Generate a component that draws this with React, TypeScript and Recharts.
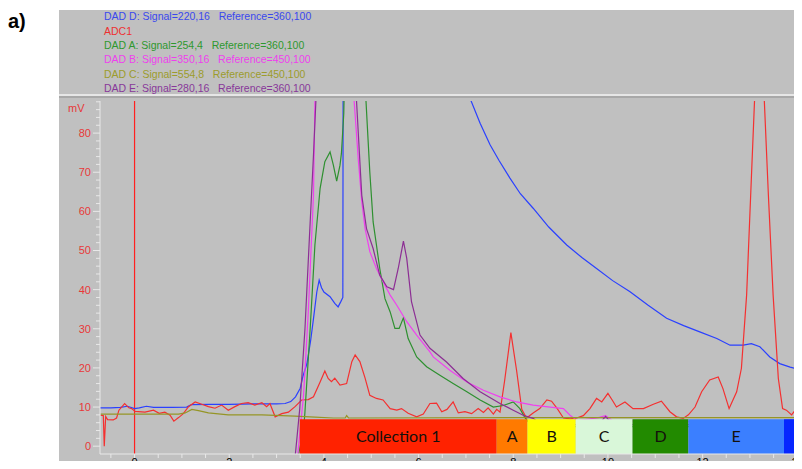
import React from 'react';
import { LineChart, Line, XAxis, YAxis, ReferenceArea, ReferenceLine } from 'recharts';

// Retention time (min) / signal (mV) pairs
const dadD: [number, number][] = [
  [-0.73, 9.8], [-0.5, 9.8], [-0.3, 9.9], [-0.15, 10.2], [0.0, 9.6], [0.1, 9.8], [0.25, 10.2], [0.4, 9.9],
  [0.8, 9.9], [1.1, 10.0], [1.2, 10.6], [1.6, 10.7], [2.0, 10.7], [2.5, 10.8], [3.0, 10.8], [3.18, 10.9],
  [3.3, 11.4], [3.4, 12.6], [3.5, 14.8], [3.56, 18.0], [3.64, 21.0], [3.72, 27.0], [3.78, 32.6], [3.85, 39.4],
  [3.9, 42.4], [3.95, 40.5], [4.0, 39.4], [4.13, 38.2], [4.23, 36.5], [4.3, 35.6], [4.36, 37.0], [4.4, 38.0],
  [4.41, 130], [6.9, 130], [7.0, 92], [7.1, 88.5], [7.3, 82.5], [7.51, 77], [7.7, 73], [7.93, 68.5],
  [8.15, 64.5], [8.42, 60.8], [8.75, 56], [9.13, 51.4], [9.45, 48.2], [9.76, 45.4], [10.1, 42.3], [10.46, 39.5],
  [10.85, 36], [11.24, 32.7], [11.6, 30.8], [11.94, 29.2], [12.3, 27.5], [12.58, 25.8], [12.86, 25.8],
  [13.03, 26.2], [13.21, 25.4], [13.42, 22.8], [13.63, 21.1], [13.85, 20.2], [14.1, 19.4],
];

const adc1: [number, number][] = [
  [-0.72, 7.9], [-0.66, 7.8], [-0.64, 0], [-0.61, 7.6], [-0.57, 6.8], [-0.45, 6.7], [-0.38, 7.2], [-0.33, 9.2],
  [-0.21, 10.9], [-0.12, 9.8], [-0.06, 9.6], [0.01, 8.9], [0.22, 8.7], [0.4, 9.2], [0.52, 8.4], [0.64, 8.7],
  [0.75, 7.9], [0.83, 6.4], [0.93, 7.3], [1.03, 8.3], [1.14, 10.1], [1.28, 11.3], [1.42, 10.7], [1.56, 10.1],
  [1.7, 9.7], [1.84, 10.5], [1.98, 9.2], [2.12, 10.1], [2.26, 10.9], [2.4, 11.1], [2.54, 10.5], [2.69, 11.1],
  [2.79, 10.1], [2.86, 10.9], [2.97, 7.5], [3.11, 8.3], [3.25, 8.7], [3.39, 10.1], [3.53, 11.8], [3.67, 11.9],
  [3.78, 12.6], [3.92, 16.4], [4.02, 19.2], [4.09, 17.3], [4.16, 16.5], [4.23, 17.4], [4.34, 15.6], [4.48, 16.0],
  [4.59, 21.6], [4.66, 23.3], [4.76, 21.6], [4.87, 17.4], [4.97, 13.0], [5.11, 12.2], [5.25, 11.8], [5.4, 9.6],
  [5.54, 9.2], [5.64, 9.6], [5.78, 8.4], [5.96, 7.5], [6.1, 8.2], [6.24, 10.9], [6.38, 11.0], [6.49, 8.8],
  [6.6, 9.4], [6.73, 11.3], [6.84, 8.5], [6.98, 8.8], [7.12, 8.3], [7.26, 9.6], [7.37, 8.6], [7.47, 9.8],
  [7.58, 8.2], [7.65, 9.4], [7.72, 8.7], [7.82, 16.9], [7.95, 29.0], [8.07, 19.4], [8.18, 9.4], [8.28, 7.2],
  [8.42, 8.5], [8.56, 9.6], [8.71, 11.8], [8.81, 11.5], [8.93, 9.6], [9.06, 7.2], [9.2, 7.0], [9.34, 7.2],
  [9.48, 7.8], [9.62, 9.6], [9.76, 12.2], [9.87, 11.3], [10.0, 13.5], [10.1, 11.6], [10.18, 10.0], [10.36, 11.3],
  [10.53, 9.6], [10.75, 9.6], [10.96, 10.7], [11.13, 11.5], [11.31, 8.8], [11.45, 7.5], [11.59, 7.1], [11.7, 8.0],
  [11.84, 10.0], [11.98, 13.9], [12.15, 16.9], [12.33, 17.7], [12.43, 14.7], [12.56, 9.6], [12.72, 13.9],
  [12.82, 19.9], [12.93, 38.6], [13.03, 68.4], [13.12, 95], [13.2, 108], [13.28, 95], [13.39, 64.1],
  [13.49, 38.6], [13.6, 17.3], [13.69, 9.6], [13.77, 9.2], [13.88, 8.0], [13.98, 9.6], [14.1, 10.0],
];

const dadA: [number, number][] = [
  [3.45, -3], [3.57, 4], [3.6, 8.8], [3.71, 30], [3.81, 51.4], [3.92, 65.9], [4.02, 72.7], [4.13, 75.2],
  [4.2, 71.8], [4.27, 67.7], [4.34, 71.8], [4.37, 74.8], [4.42, 85], [4.46, 110], [4.7, 130], [4.86, 100],
  [4.89, 88], [4.92, 81.2], [4.97, 70], [5.04, 57.3], [5.11, 51.4], [5.18, 45.4], [5.29, 37.7], [5.4, 34.3],
  [5.5, 30.1], [5.59, 30.1], [5.68, 32.8], [5.78, 27.5], [5.96, 22.8], [6.17, 20.3], [6.45, 18.1], [6.73, 16.0],
  [7.02, 13.9], [7.3, 11.8], [7.58, 10.0], [7.79, 10.4], [8.0, 11.3], [8.14, 9.6], [8.25, 7.2], [8.4, 5.0],
  [14.1, 5.0],
];

const dadB: [number, number][] = [
  [3.44, -3], [3.57, 13], [3.67, 34.3], [3.78, 64.1], [3.81, 88], [3.86, 130], [4.55, 130], [4.64, 88],
  [4.73, 72.7], [4.8, 62.5], [4.87, 55.6], [4.97, 49.7], [5.11, 45.4], [5.25, 42.0], [5.4, 38.6], [5.54, 36.0],
  [5.75, 31.8], [5.96, 28.4], [6.24, 24.1], [6.31, 22.8], [6.66, 19.4], [7.02, 16.4], [7.37, 14.3], [7.72, 12.6],
  [8.07, 11.3], [8.42, 10.5], [8.78, 10.0], [9.06, 9.6], [9.2, 7.9], [9.35, 6.5], [9.8, 7.3], [9.95, 7.8],
  [10.1, 6.5], [14.1, 6.0],
];

const dadC: [number, number][] = [
  [-0.72, 8.2], [0.93, 8.2], [1.07, 8.5], [1.21, 9.4], [1.35, 9.1], [1.56, 8.5], [1.98, 8.0], [2.69, 8.0],
  [3.39, 7.7], [3.81, 7.4], [4.2, 7.2], [4.45, 7.2], [4.48, 7.8], [4.52, 7.2], [8.0, 7.3], [14.1, 7.3],
];

const dadE: [number, number][] = [
  [3.39, -3], [3.49, 9.6], [3.6, 30], [3.71, 57.3], [3.78, 74.4], [3.83, 88], [3.88, 130], [4.6, 130],
  [4.69, 88], [4.76, 72.7], [4.8, 64.1], [4.9, 55.6], [5.04, 50.5], [5.18, 43.7], [5.33, 40.7], [5.47, 40.0],
  [5.57, 45.4], [5.68, 52.4], [5.75, 48.0], [5.85, 36.9], [6.03, 28.4], [6.24, 25.0], [6.59, 21.5], [6.94, 17.3],
  [7.3, 13.9], [7.72, 10.9], [8.0, 9.2], [8.21, 7.9], [8.42, 7.1], [8.6, 5.5], [9.8, 5.5], [9.95, 7.6],
  [10.1, 5.5], [14.1, 5.5],
];

// Fraction collection windows (start, end) and labels
const fractionLabels = ['Collection 1', 'A', 'B', 'C', 'D', 'E', 'F'];
const fractionStart = [3.49, 7.65, 8.3, 9.32, 10.52, 11.7, 13.72];
const fractionEnd = [7.65, 8.3, 9.32, 10.52, 11.7, 13.72, 14.1];
const fractionColors = ['#ff2200', '#ff7a00', '#ffff00', '#d9f7d9', '#228a00', '#3b7fff', '#0626ff'];

const legendLabels = [
  'DAD D: Signal=220,16   Reference=360,100',
  'ADC1',
  'DAD A: Signal=254,4   Reference=360,100',
  'DAD B: Signal=350,16   Reference=450,100',
  'DAD C: Signal=554,8   Reference=450,100',
  'DAD E: Signal=280,16   Reference=360,100',
];
const legendColors = ['#3a48ee', '#ee3030', '#2e982e', '#ee40ee', '#9c9c2c', '#88389a'];

const xTicks = [-0.5, 0, 0.5, 1, 1.5, 2, 2.5, 3, 3.5, 4, 4.5, 5, 5.5, 6, 6.5, 7, 7.5, 8, 8.5, 9, 9.5, 10, 10.5, 11, 11.5, 12, 12.5, 13, 13.5, 14];
const yTicks = [0, 2, 4, 6, 8, 10, 12, 14, 16, 18, 20, 22, 24, 26, 28, 30, 32, 34, 36, 38, 40, 42, 44, 46, 48, 50, 52, 54, 56, 58, 60, 62, 64, 66, 68, 70, 72, 74, 76, 78, 80, 82, 84, 86, 88];

const toPts = (arr: [number, number][]) => arr.map(([t, v]) => ({ t, v }));

const FONT = '"Liberation Sans", Arial, sans-serif';
const AXIS = '#e8e8e8';

function XTick(props: any) {
  const { x, y, payload } = props;
  const v = payload.value as number;
  const major = Math.abs(v % 2) < 1e-9;
  return (
    <g>
      <line x1={x} x2={x} y1={y} y2={y + 4} stroke={AXIS} />
      {major && (
        <text x={x} y={y + 12} textAnchor="middle" fontSize={11} fill="#000" fontFamily={FONT}>
          {v}
        </text>
      )}
    </g>
  );
}

function YTick(props: any) {
  const { x, y, payload } = props;
  const v = payload.value as number;
  const major = v % 10 === 0;
  return (
    <g>
      <line x1={x - (major ? 7 : 4)} x2={x} y1={y} y2={y} stroke={AXIS} />
      {major && (
        <text x={x - 9} y={y} dy="0.36em" textAnchor="end" fontSize={11} fill="#e83838" fontFamily={FONT}>
          {v}
        </text>
      )}
    </g>
  );
}

export default function App() {
  const series = [
    { name: 'DAD D', data: dadD, color: '#2a40ff' },
    { name: 'ADC1', data: adc1, color: '#f43030' },
    { name: 'DAD A', data: dadA, color: '#2e9030' },
    { name: 'DAD B', data: dadB, color: '#f040f0' },
    { name: 'DAD C', data: dadC, color: '#959526' },
    { name: 'DAD E', data: dadE, color: '#8c2e94' },
  ];
  const last = fractionLabels.length - 1;
  return (
    <div style={{ position: 'relative', width: 802, height: 469, margin: -8, overflow: 'hidden', background: '#fff' }}>
      <div style={{ position: 'absolute', left: 59, top: 10, width: 743, height: 459, background: '#c0c0c0' }} />
      <svg width={802} height={469} style={{ position: 'absolute', left: 0, top: 0 }}>
        <rect x={59} y={94} width={743} height={2} fill="#e6e6e6" />
        <rect x={59} y={96} width={743} height={2} fill="#a8a8a8" />
        <text x={8} y={28} fontSize={20} fontWeight="bold" fontFamily={FONT} fill="#000">a)</text>
        {legendLabels.map((l, i) => (
          <text key={l} x={104} y={20.3 + i * 14.3} fontSize={10.5} fontFamily={FONT} fill={legendColors[i]} style={{ whiteSpace: 'pre' }}>
            {l}
          </text>
        ))}
        <text x={68} y={112} fontSize={11} fontFamily={FONT} fill="#e83838">mV</text>
      </svg>
      <div style={{ position: 'absolute', left: 0, top: 0 }}>
        <LineChart width={802} height={469} margin={{ top: 101, right: 0, bottom: 0, left: 0 }}>
          <XAxis
            type="number"
            dataKey="t"
            domain={[-0.73, 14.1]}
            allowDataOverflow
            ticks={xTicks}
            interval={0}
            tick={<XTick />}
            tickLine={false}
            tickSize={0}
            tickMargin={0}
            height={15}
            axisLine={{ stroke: AXIS }}
          />
          <YAxis
            type="number"
            domain={[-2, 88.2]}
            allowDataOverflow
            ticks={yTicks}
            interval={0}
            tick={<YTick />}
            tickLine={false}
            tickSize={0}
            tickMargin={0}
            width={100}
            axisLine={{ stroke: AXIS }}
          />
          <ReferenceLine x={0} stroke="#ff2020" strokeWidth={1.2} />
          {series.map((s) => (
            <Line
              key={s.name}
              name={s.name}
              data={toPts(s.data)}
              dataKey="v"
              type="linear"
              stroke={s.color}
              strokeWidth={1.2}
              dot={false}
              activeDot={false}
              isAnimationActive={false}
            />
          ))}
          {fractionLabels.map((lab, i) => (
            <ReferenceArea
              key={lab}
              x1={fractionStart[i]}
              x2={fractionEnd[i]}
              y1={-2}
              y2={6.9}
              fill={fractionColors[i]}
              fillOpacity={1}
              stroke="none"
              ifOverflow="visible"
              zIndex={450}
              label={{
                value: lab,
                position: i === last ? 'insideLeft' : 'center',
                offset: 11,
                fill: '#14100c',
                fontSize: 16,
                fontFamily: 'Lato, sans-serif',
              }}
            />
          ))}
        </LineChart>
      </div>
    </div>
  );
}
